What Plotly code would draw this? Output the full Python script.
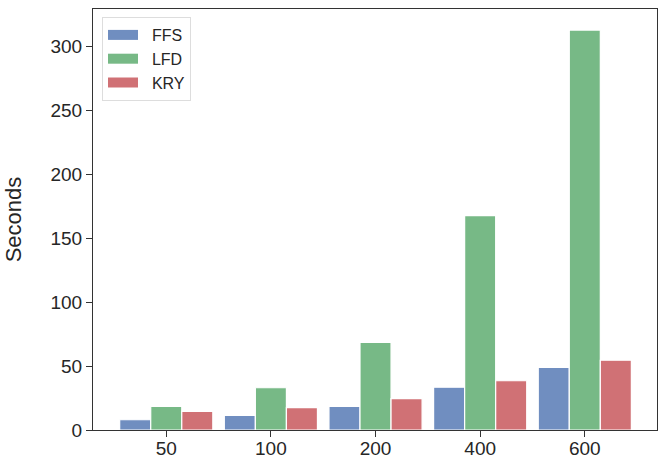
import plotly.graph_objects as go

categories = ["50", "100", "200", "400", "600"]
ffs = [8, 11.5, 18.5, 33.5, 49]
lfd = [18.5, 33, 68.5, 167.5, 312.5]
kry = [14.5, 17.5, 24.5, 38.5, 54.5]

series = [("FFS", ffs, "#708EC0"), ("LFD", lfd, "#77B986"), ("KRY", kry, "#D07175")]

fig = go.Figure()
for name, vals, col in series:
    fig.add_trace(go.Bar(
        x=categories, y=vals, name=name, showlegend=False,
        marker=dict(color=col, line=dict(color="white", width=1.2)),
    ))
# legend entries drawn as wide rectangles (thick line swatches)
for name, vals, col in series:
    fig.add_trace(go.Scatter(
        x=[None], y=[None], name="\u00a0\u00a0" + name, mode="lines",
        line=dict(color=col, width=10), showlegend=True,
    ))

font_family = "Liberation Sans, Arial, sans-serif"
fig.update_layout(
    width=664, height=466,
    margin=dict(l=93, r=7, t=9, b=36, autoexpand=False),
    paper_bgcolor="white", plot_bgcolor="white",
    barmode="group", bargap=0.11, bargroupgap=0,
    font=dict(family=font_family, size=19, color="#262626"),
    showlegend=True,
    legend=dict(
        x=0.016, y=0.981, xanchor="left", yanchor="top",
        bgcolor="rgba(255,255,255,0.8)", bordercolor="#dddddd", borderwidth=1,
        font=dict(size=16, color="#262626"),
        itemwidth=30,
    ),
    xaxis=dict(
        type="category", range=[-0.7, 4.69], automargin=False,
        showline=True, linecolor="#333333", linewidth=1.2, mirror=True,
        ticks="outside", ticklen=6, tickcolor="#333333",
        ticklabelstandoff=-5,
        showgrid=False, zeroline=False,
    ),
    yaxis=dict(
        range=[0, 329], tickvals=[0, 50, 100, 150, 200, 250, 300], automargin=False,
        showline=True, linecolor="#333333", linewidth=1.2, mirror=True,
        ticks="outside", ticklen=6, tickcolor="#333333",
        showgrid=False, zeroline=False,
        title=dict(text="Seconds", font=dict(size=22), standoff=22),
    ),
)

fig.write_html("out.html")
